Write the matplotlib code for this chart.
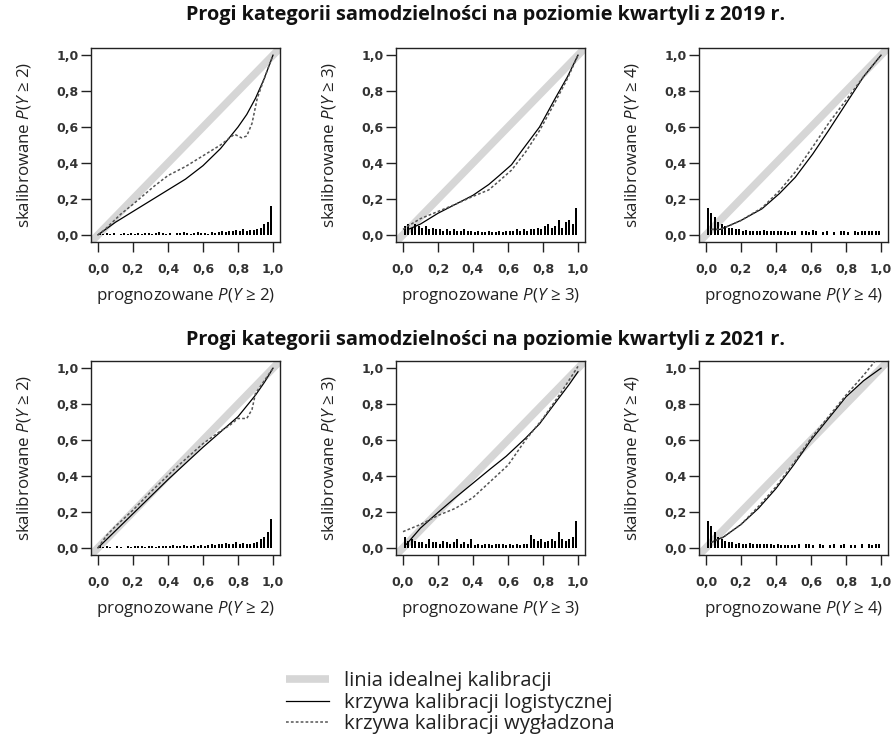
import numpy as np
import matplotlib
matplotlib.use("Agg")
import matplotlib.pyplot as plt

plt.rcParams['font.family'] = ['Open Sans', 'DejaVu Sans']
plt.rcParams['mathtext.fontset'] = 'custom'
plt.rcParams['mathtext.it'] = 'Open Sans:italic'
plt.rcParams['mathtext.rm'] = 'Open Sans'

# ---------------- data ----------------
titles = ["Progi kategorii samodzielności na poziomie kwartyli z 2019 r.",
          "Progi kategorii samodzielności na poziomie kwartyli z 2021 r."]
thresholds = [2, 3, 4]
tick_vals = [0.0, 0.2, 0.4, 0.6, 0.8, 1.0]
tick_labels = ["0,0", "0,2", "0,4", "0,6", "0,8", "1,0"]
legend_labels = ["linia idealnej kalibracji",
                 "krzywa kalibracji logistycznej",
                 "krzywa kalibracji wygładzona"]

# logistic calibration curves (x, y) and smoothed calibration curves
log_x_19_2 = [0.0, 0.1, 0.2, 0.3, 0.4, 0.5, 0.6, 0.7, 0.8, 0.85, 0.9, 0.95, 1.0]
log_y_19_2 = [0.0, 0.07, 0.13, 0.19, 0.25, 0.31, 0.385, 0.48, 0.60, 0.67, 0.76, 0.87, 1.0]
smo_x_19_2 = [0.0, 0.04, 0.13, 0.2, 0.32, 0.4, 0.5, 0.6, 0.7, 0.78, 0.82, 0.85, 0.88, 0.91, 0.95, 1.0]
smo_y_19_2 = [0.0, 0.03, 0.115, 0.17, 0.27, 0.33, 0.38, 0.44, 0.50, 0.56, 0.54, 0.55, 0.62, 0.76, 0.87, 1.0]

log_x_19_3 = [0.03, 0.1, 0.2, 0.3, 0.4, 0.49, 0.55, 0.62, 0.68, 0.78, 0.87, 0.94, 1.0]
log_y_19_3 = [0.03, 0.06, 0.12, 0.17, 0.22, 0.28, 0.33, 0.39, 0.47, 0.60, 0.76, 0.88, 1.0]
smo_x_19_3 = [0.0, 0.03, 0.1, 0.2, 0.3, 0.39, 0.49, 0.55, 0.62, 0.7, 0.78, 0.87, 0.94, 1.0]
smo_y_19_3 = [0.03, 0.05, 0.09, 0.13, 0.17, 0.21, 0.25, 0.30, 0.36, 0.46, 0.58, 0.74, 0.87, 1.0]

log_x_19_4 = [0.03, 0.08, 0.13, 0.2, 0.32, 0.42, 0.51, 0.61, 0.7, 0.8, 0.9, 1.0]
log_y_19_4 = [0.03, 0.03, 0.05, 0.08, 0.145, 0.23, 0.32, 0.45, 0.58, 0.73, 0.88, 1.0]
smo_x_19_4 = [0.03, 0.08, 0.13, 0.2, 0.32, 0.42, 0.51, 0.61, 0.7, 0.8, 0.9, 1.0]
smo_y_19_4 = [0.03, 0.03, 0.05, 0.08, 0.15, 0.245, 0.35, 0.49, 0.62, 0.75, 0.88, 1.0]

log_x_21_2 = [0.0, 0.1, 0.2, 0.3, 0.4, 0.5, 0.6, 0.7, 0.8, 0.9, 0.95, 1.0]
log_y_21_2 = [0.0, 0.095, 0.19, 0.285, 0.38, 0.47, 0.56, 0.645, 0.73, 0.85, 0.92, 1.0]
smo_x_21_2 = [0.0, 0.05, 0.1, 0.2, 0.3, 0.45, 0.6, 0.7, 0.75, 0.8, 0.85, 0.88, 0.9, 0.95, 1.0]
smo_y_21_2 = [0.0, 0.07, 0.12, 0.21, 0.31, 0.45, 0.58, 0.65, 0.68, 0.72, 0.72, 0.77, 0.86, 0.93, 1.0]

log_x_21_3 = [0.02, 0.1, 0.2, 0.3, 0.4, 0.5, 0.59, 0.7, 0.78, 0.88, 0.95, 1.0]
log_y_21_3 = [0.02, 0.11, 0.197, 0.28, 0.36, 0.44, 0.51, 0.61, 0.69, 0.82, 0.91, 0.98]
smo_x_21_3 = [0.0, 0.1, 0.2, 0.3, 0.4, 0.5, 0.6, 0.7, 0.8, 0.9, 1.0]
smo_y_21_3 = [0.09, 0.13, 0.18, 0.22, 0.28, 0.37, 0.46, 0.60, 0.72, 0.86, 1.01]

log_x_21_4 = [0.03, 0.1, 0.2, 0.3, 0.4, 0.5, 0.6, 0.7, 0.8, 0.9, 1.0]
log_y_21_4 = [0.03, 0.06, 0.13, 0.22, 0.33, 0.46, 0.60, 0.72, 0.84, 0.93, 1.0]
smo_x_21_4 = [0.03, 0.1, 0.2, 0.3, 0.4, 0.5, 0.6, 0.7, 0.8, 0.9, 1.0]
smo_y_21_4 = [0.03, 0.06, 0.13, 0.23, 0.34, 0.47, 0.61, 0.73, 0.85, 0.96, 1.08]

# spike histogram of predicted probabilities (bin centres 0.01 .. 0.99)
hist_centres = [0.01 + 0.02 * i for i in range(50)]
hist_19_2 = [0.01, 0.005, 0.01, 0.005, 0.01, 0.0, 0.005, 0.01, 0.005, 0.01,
             0.005, 0.01, 0.005, 0.01, 0.01, 0.005, 0.01, 0.015, 0.01, 0.005,
             0.01, 0.0, 0.01, 0.01, 0.015, 0.01, 0.005, 0.01, 0.015, 0.01,
             0.01, 0.005, 0.015, 0.01, 0.015, 0.02, 0.015, 0.02, 0.02, 0.025,
             0.02, 0.03, 0.02, 0.025, 0.025, 0.03, 0.04, 0.06, 0.07, 0.16]
hist_19_3 = [0.05, 0.06, 0.04, 0.06, 0.05, 0.04, 0.05, 0.03, 0.04, 0.03,
             0.03, 0.02, 0.03, 0.02, 0.03, 0.02, 0.02, 0.03, 0.02, 0.02,
             0.015, 0.02, 0.015, 0.015, 0.02, 0.015, 0.015, 0.02, 0.015, 0.02,
             0.02, 0.02, 0.03, 0.02, 0.03, 0.02, 0.03, 0.03, 0.04, 0.03,
             0.05, 0.06, 0.04, 0.05, 0.08, 0.04, 0.07, 0.08, 0.06, 0.15]
hist_19_4 = [0.15, 0.12, 0.10, 0.07, 0.06, 0.05, 0.04, 0.04, 0.03, 0.03,
             0.02, 0.025, 0.02, 0.02, 0.02, 0.02, 0.025, 0.02, 0.02, 0.02,
             0.02, 0.02, 0.02, 0.015, 0.02, 0.02, 0.0, 0.02, 0.02, 0.015,
             0.025, 0.02, 0.0, 0.015, 0.02, 0.0, 0.015, 0.0, 0.02, 0.02,
             0.015, 0.0, 0.02, 0.015, 0.02, 0.02, 0.02, 0.02, 0.02, 0.02]
hist_21_2 = [0.01, 0.005, 0.01, 0.005, 0.0, 0.01, 0.005, 0.0, 0.01, 0.005,
             0.01, 0.01, 0.01, 0.005, 0.01, 0.01, 0.005, 0.01, 0.01, 0.01,
             0.01, 0.015, 0.01, 0.01, 0.015, 0.01, 0.01, 0.015, 0.01, 0.015,
             0.01, 0.015, 0.02, 0.015, 0.02, 0.02, 0.025, 0.02, 0.02, 0.03,
             0.02, 0.025, 0.02, 0.02, 0.025, 0.03, 0.05, 0.06, 0.09, 0.16]
hist_21_3 = [0.06, 0.04, 0.05, 0.04, 0.03, 0.03, 0.02, 0.05, 0.03, 0.03,
             0.02, 0.04, 0.03, 0.02, 0.03, 0.05, 0.02, 0.03, 0.02, 0.05,
             0.015, 0.02, 0.015, 0.02, 0.02, 0.015, 0.02, 0.02, 0.02, 0.015,
             0.02, 0.015, 0.02, 0.015, 0.02, 0.02, 0.07, 0.05, 0.04, 0.05,
             0.03, 0.04, 0.05, 0.04, 0.09, 0.05, 0.04, 0.05, 0.06, 0.15]
hist_21_4 = [0.15, 0.12, 0.09, 0.06, 0.05, 0.04, 0.03, 0.03, 0.02, 0.025,
             0.02, 0.02, 0.025, 0.02, 0.02, 0.02, 0.02, 0.02, 0.02, 0.015,
             0.02, 0.015, 0.015, 0.015, 0.015, 0.015, 0.02, 0.0, 0.02, 0.02,
             0.015, 0.0, 0.02, 0.015, 0.0, 0.015, 0.02, 0.0, 0.015, 0.02,
             0.0, 0.015, 0.015, 0.0, 0.02, 0.0, 0.02, 0.015, 0.02, 0.02]

panels = [
    [(log_x_19_2, log_y_19_2, smo_x_19_2, smo_y_19_2, hist_19_2),
     (log_x_19_3, log_y_19_3, smo_x_19_3, smo_y_19_3, hist_19_3),
     (log_x_19_4, log_y_19_4, smo_x_19_4, smo_y_19_4, hist_19_4)],
    [(log_x_21_2, log_y_21_2, smo_x_21_2, smo_y_21_2, hist_21_2),
     (log_x_21_3, log_y_21_3, smo_x_21_3, smo_y_21_3, hist_21_3),
     (log_x_21_4, log_y_21_4, smo_x_21_4, smo_y_21_4, hist_21_4)],
]

# ---------------- layout ----------------
W, H = 892, 737
fig = plt.figure(figsize=(W / 100, H / 100), dpi=100)

col_left = [91, 396, 699]
row_top = [48, 361]
ax_w, ax_h = 189, 194

tick_font = dict(family=['DejaVu Sans'], weight='bold', size=9)
handles = None
for r in range(2):
    for c in range(3):
        lx, ly, sx, sy, hh = panels[r][c]
        ax = fig.add_axes([col_left[c] / W, 1 - (row_top[r] + ax_h) / H, ax_w / W, ax_h / H])
        ax.set_xlim(-0.04, 1.04)
        ax.set_ylim(-0.04, 1.04)
        l0 = ax.axline((0, 0), (1, 1), color='#d6d6d6', lw=5.5, solid_capstyle='butt', zorder=1)
        ax.bar(hist_centres, hh, width=0.012, color='black', zorder=2)
        l1, = ax.plot(lx, ly, color='black', lw=0.9, zorder=3)
        l2, = ax.plot(sx, sy, color='#555555', lw=1.1, ls=(0, (1.8, 1.4)), zorder=3)
        handles = [l0, l1, l2]
        ax.set_xticks(tick_vals)
        ax.set_yticks(tick_vals)
        ax.set_xticklabels(tick_labels, fontdict=tick_font)
        ax.set_yticklabels(tick_labels, fontdict=tick_font)
        ax.tick_params(axis='both', direction='out', length=7, width=1, color='#222222', labelcolor='#333333')
        ax.tick_params(axis='x', pad=8)
        ax.tick_params(axis='y', pad=2)
        for s in ax.spines.values():
            s.set_linewidth(1.0)
            s.set_color('#222222')
        k = thresholds[c]
        ax.set_xlabel(r"prognozowane $P$($Y$ ≥ %d)" % k, fontsize=12.2, labelpad=7, color='#222222')
        ax.set_ylabel(r"skalibrowane $P$($Y$ ≥ %d)" % k, fontsize=12.2, labelpad=17, color='#222222')

fig.text(0.544, 1 - 15 / H, titles[0], ha='center', va='center', fontsize=14.3, weight='bold', color='#111111')
fig.text(0.544, 1 - 340 / H, titles[1], ha='center', va='center', fontsize=14.3, weight='bold', color='#111111')

leg = fig.legend(handles, legend_labels, loc='upper left', bbox_to_anchor=(286 / W, 1 - 671 / H),
                 frameon=False, fontsize=14.6, handlelength=2.1, handletextpad=0.75,
                 labelspacing=0.08, borderpad=0, borderaxespad=0)
for t in leg.get_texts():
    t.set_color('#222222')

fig.savefig("out.png", dpi=100)
